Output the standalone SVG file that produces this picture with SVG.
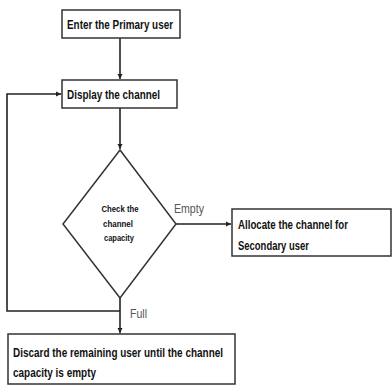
<svg xmlns="http://www.w3.org/2000/svg" width="392" height="385" viewBox="0 0 392 385">
<defs>
<style>
.box{fill:#fff;stroke:#333;stroke-width:1.5}
.t{font-family:"Liberation Sans",Arial,sans-serif;font-weight:bold;font-size:13.5px;fill:#111}
.s{font-family:"Liberation Sans",Arial,sans-serif;font-weight:bold;font-size:9px;fill:#111}
.l{font-family:"Liberation Sans",Arial,sans-serif;font-size:12.5px;fill:#555}
.c{fill:none;stroke:#222;stroke-width:1.6}
</style>
<marker id="a" markerWidth="6" markerHeight="6" refX="5" refY="3" orient="auto" markerUnits="userSpaceOnUse">
<path d="M0,0.5 L5,3 L0,5.5 Z" fill="#222"/>
</marker>
</defs>
<rect width="392" height="385" fill="#fff"/>
<g id="connectors">
<path class="c" d="M120,38 V79" marker-end="url(#a)"/>
<path class="c" d="M120,108 V149" marker-end="url(#a)"/>
<path class="c" d="M176,224 H231" marker-end="url(#a)"/>
<path class="c" d="M120,298 V333" marker-end="url(#a)"/>
<path class="c" d="M120,311 H7 V94 H61" marker-end="url(#a)"/>
<text class="l" x="174" y="213" textLength="30" lengthAdjust="spacingAndGlyphs">Empty</text>
<text class="l" x="130" y="318" textLength="17" lengthAdjust="spacingAndGlyphs">Full</text>
</g>
<g id="n1">
<rect class="box" x="62" y="10" width="118" height="28"/>
<text class="t" x="67" y="29" textLength="106" lengthAdjust="spacingAndGlyphs">Enter the Primary user</text>
</g>
<g id="n2">
<rect class="box" x="62" y="80" width="115" height="28"/>
<text class="t" x="67" y="99" textLength="93" lengthAdjust="spacingAndGlyphs">Display the channel</text>
</g>
<g id="n3">
<polygon class="box" points="120,150 176,224 120,298 63,224"/>
<text class="s" x="120" y="212" text-anchor="middle" textLength="37" lengthAdjust="spacingAndGlyphs">Check the</text>
<text class="s" x="118" y="227" text-anchor="middle" textLength="30" lengthAdjust="spacingAndGlyphs">channel</text>
<text class="s" x="119" y="241" text-anchor="middle" textLength="30" lengthAdjust="spacingAndGlyphs">capacity</text>
</g>
<g id="n4">
<rect class="box" x="232" y="209" width="159" height="47"/>
<text class="t" x="238" y="229" textLength="110" lengthAdjust="spacingAndGlyphs">Allocate the channel for</text>
<text class="t" x="238" y="250" textLength="71" lengthAdjust="spacingAndGlyphs">Secondary user</text>
</g>
<g id="n5">
<rect class="box" x="8" y="334" width="227" height="50"/>
<text class="t" x="13" y="357" textLength="210" lengthAdjust="spacingAndGlyphs">Discard the remaining user until the channel</text>
<text class="t" x="13" y="377" textLength="83" lengthAdjust="spacingAndGlyphs">capacity is empty</text>
</g>
</svg>
